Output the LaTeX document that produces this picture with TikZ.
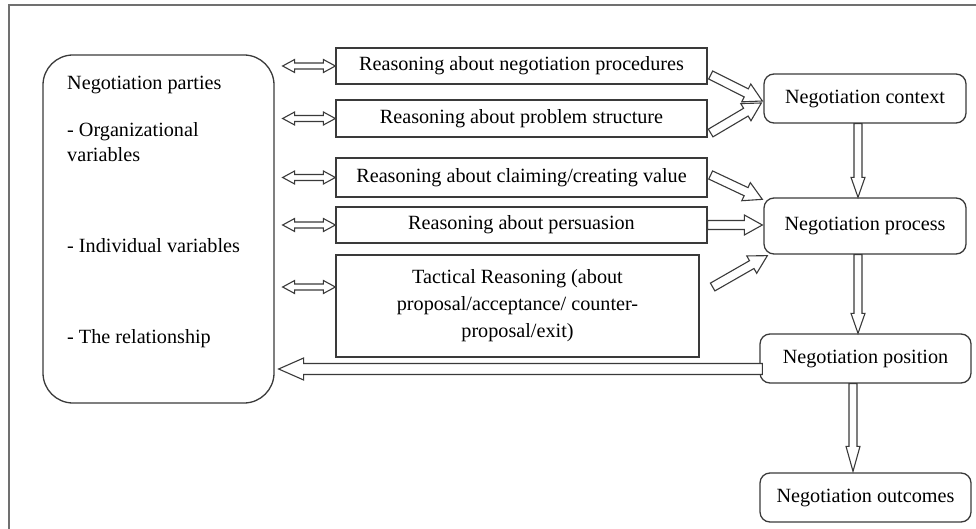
\documentclass[tikz,border=0pt]{standalone}
\usepackage{fontspec}
\setmainfont{Liberation Serif}
\usetikzlibrary{calc}
\definecolor{ln}{HTML}{3A3A3A}
\definecolor{fr}{HTML}{707070}
% single hollow arrow: #1 start, #2 tip, #3 body half width, #4 head half width, #5 head length
\newcommand\hollowarrow[5]{%
  \coordinate (hb) at ($(#2)!#5pt!(#1)$);
  \draw[arr] ($(#1)!#3pt!90:(#2)$) -- ($(hb)!#3pt!90:(#2)$) -- ($(hb)!#4pt!90:(#2)$) -- (#2)
    -- ($(hb)!#4pt!-90:(#2)$) -- ($(hb)!#3pt!-90:(#2)$) -- ($(#1)!#3pt!-90:(#2)$) -- cycle;}
% double-headed hollow arrow
\newcommand\hollowdarrow[5]{%
  \coordinate (ha) at ($(#1)!#5pt!(#2)$);
  \coordinate (hb) at ($(#2)!#5pt!(#1)$);
  \draw[arr] (#1) -- ($(ha)!#4pt!90:(#2)$) -- ($(ha)!#3pt!90:(#2)$) -- ($(hb)!#3pt!90:(#2)$)
    -- ($(hb)!#4pt!90:(#2)$) -- (#2) -- ($(hb)!#4pt!-90:(#2)$) -- ($(hb)!#3pt!-90:(#2)$)
    -- ($(ha)!#3pt!-90:(#2)$) -- ($(ha)!#4pt!-90:(#2)$) -- cycle;}
\tikzset{
  arr/.style={draw=ln, line width=1.1pt, fill=white, line join=miter},
  txt/.style={font=\fontsize{20.2}{27}\selectfont, text=black},
  rbox/.style={draw=ln, line width=1.3pt, rectangle, inner sep=0pt, txt},
  gbox/.style={draw=ln, line width=1.3pt, rectangle, rounded corners=10pt, inner sep=0pt, txt},
  ltxt/.style={txt, anchor=base west, inner sep=0pt},
}
\begin{document}
\begin{tikzpicture}[x=1pt, y=-1pt]
\useasboundingbox (0,0) rectangle (976,529);
% frame
\draw[fr, line width=1.6pt] (976,5) -- (9,5) -- (9,529);
% left box
\node[draw=ln, line width=1.3pt, rounded corners=30pt, minimum width=231pt, minimum height=348pt, inner sep=0pt] (L) at (158.5,229) {};
\node[ltxt] (t1) at (67,90) {Negotiation parties};
\node[ltxt] (t2) at (67,137) {- Organizational};
\node[ltxt] (t3) at (67,162) {variables};
\node[ltxt] (t4) at (67,252) {- Individual variables};
\node[ltxt] (t5) at (67,343) {- The relationship};
% reasoning boxes
\node[rbox, minimum width=371pt, minimum height=36pt] (r1) at (521.5,66) {Reasoning about negotiation procedures};
\node[rbox, minimum width=371pt, minimum height=37pt] (r2) at (521.5,118.5) {Reasoning about problem structure};
\node[rbox, minimum width=371pt, minimum height=39pt] (r3) at (521.5,177.5) {Reasoning about claiming/creating value};
\node[rbox, minimum width=371pt, minimum height=36pt] (r4) at (521.5,225) {Reasoning about persuasion};
\node[rbox, minimum width=363pt, minimum height=102pt, align=center] (r5) at (517.5,306) {Tactical Reasoning (about\\proposal/acceptance/ counter-\\proposal/exit)};
% right boxes
\node[gbox, minimum width=202pt, minimum height=49pt] (ctx) at (865,98.5) {Negotiation context};
\node[gbox, minimum width=202pt, minimum height=56pt] (proc) at (865,226) {Negotiation process};
\node[gbox, minimum width=211pt, minimum height=49pt] (pos) at (865.5,358.5) {Negotiation position};
\node[gbox, minimum width=211pt, minimum height=49pt] (out) at (865.5,497.5) {Negotiation outcomes};
% double arrows between parties and reasoning boxes
\coordinate (d1a) at ($(L.east |- r1.west)+(8,0)$); \coordinate (d1b) at (r1.west);
\coordinate (d2a) at ($(L.east |- r2.west)+(8,0)$); \coordinate (d2b) at (r2.west);
\coordinate (d3a) at ($(L.east |- r3.west)+(8,0)$); \coordinate (d3b) at (r3.west);
\coordinate (d4a) at ($(L.east |- r4.west)+(8,0)$); \coordinate (d4b) at (r4.west);
\coordinate (d5a) at ($(L.east |- r5.west)+(8,-19)$); \coordinate (d5b) at ($(r5.west)+(0,-19)$);
\foreach \i in {1,...,5}{\hollowdarrow{d\i a}{d\i b}{3}{6.5}{12}}
% arrows into context / process
\coordinate (a1s) at ($(r1.east)+(3,9)$);   \coordinate (a1t) at ($(ctx.west)+(-1,2.5)$);
\coordinate (a2s) at ($(r2.east)+(3,14.5)$); \coordinate (a2t) at ($(ctx.west)+(-2,4.5)$);
\coordinate (a3s) at ($(r3.east)+(3,-2.5)$); \coordinate (a3t) at ($(proc.north west)+(-1,2)$);
\coordinate (a4s) at (r4.east);              \coordinate (a4t) at ($(proc.west |- r4.east)+(-1,0)$);
\coordinate (a5s) at ($(r5.east)+(13,-19)$); \coordinate (a5t) at ($(proc.south west)+(4,1)$);
\foreach \i in {1,...,5}{\hollowarrow{a\i s}{a\i t}{4.5}{10}{18}}
% vertical arrows
\coordinate (v1s) at ($(ctx.south)+(-7,0)$);   \coordinate (v1t) at ($(proc.north)+(-7,0)$);
\coordinate (v2s) at ($(proc.south)+(-7,0)$);  \coordinate (v2t) at ($(pos.north)+(-7.5,0)$);
\coordinate (v3s) at ($(pos.south)+(-12.5,0)$); \coordinate (v3t) at ($(out.north)+(-12.5,-1)$);
\hollowarrow{v1s}{v1t}{4}{7}{20}
\hollowarrow{v2s}{v2t}{4}{7}{20}
\hollowarrow{v3s}{v3t}{4}{7}{25}
% feedback arrow position -> parties
\coordinate (hs) at ($(pos.west)+(3,10.5)$); \coordinate (ht) at ($(L.east |- hs)+(4,0)$);
\hollowarrow{hs}{ht}{5.5}{11}{25}
\end{tikzpicture}
\end{document}
